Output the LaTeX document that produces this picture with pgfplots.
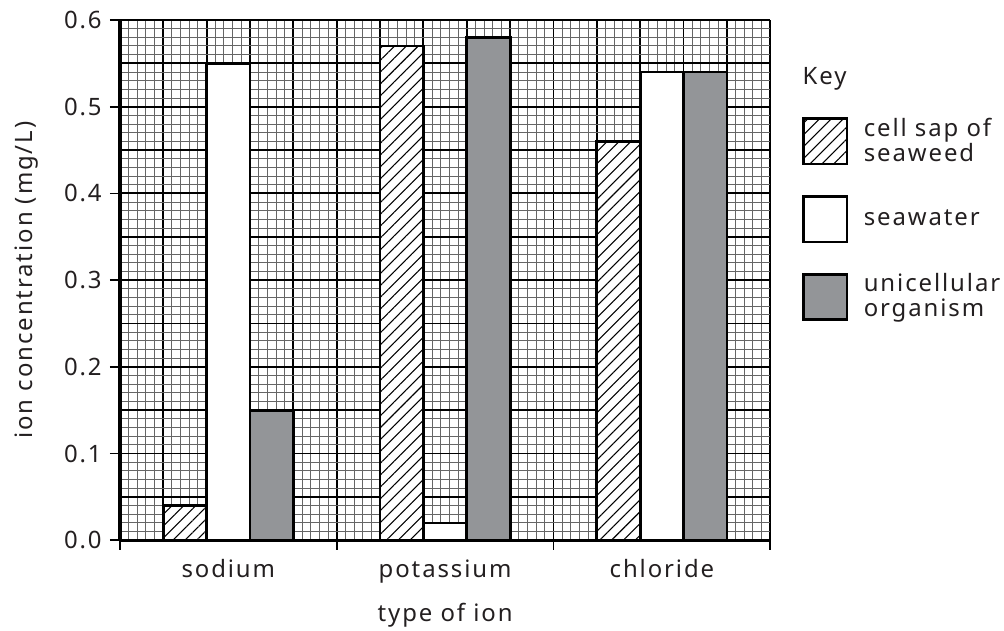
\documentclass[border=0pt]{standalone}
\usepackage{pgfplots}
\pgfplotsset{compat=1.18}
\usetikzlibrary{patterns.meta}
\usepackage{fontspec}
\setmainfont{Noto Sans}[LetterSpace=8]
\definecolor{txt}{HTML}{231F20}
\definecolor{bargrey}{HTML}{939598}
\newcommand{\fs}{\fontsize{15.7}{16.5}\selectfont}
\begin{document}
\fs
\color{txt}
\begin{tikzpicture}
\begin{axis}[
  x=1cm, y=20cm,
  xmin=0, xmax=15, ymin=0, ymax=0.6,
  clip=false,
  axis lines=left,
  axis line style={-, line width=2.2pt, black},
  xtick={0,1,2,3,4,5,6,7,8,9,10,11,12,13,14,15},
  minor x tick num=4,
  ytick={0,0.05,0.1,0.15,0.2,0.25,0.3,0.35,0.4,0.45,0.5,0.55,0.6},
  minor y tick num=4,
  xticklabels={}, yticklabels={},
  grid=both,
  major grid style={line width=1.2pt, black},
  minor grid style={line width=0.6pt, black!60},
  major tick length=0pt, minor tick length=0pt,
  extra y ticks={0,0.1,0.2,0.3,0.4,0.5,0.6},
  extra y tick labels={0.0,0.1,0.2,0.3,0.4,0.5,0.6},
  extra y tick style={grid=none, major tick length=0.23cm, tick align=outside,
     major tick style={line width=1.1pt, black},
     yticklabel style={anchor=east, xshift=0cm}},
  extra x ticks={2.5,7.5,12.5},
  extra x tick labels={sodium,potassium,chloride},
  extra x tick style={grid=none, major tick length=0pt,
     xticklabel style={anchor=base, yshift=-0.85cm}},
  ticklabel style={font=\fs, text=txt},
  xlabel={type of ion},
  ylabel={ion concentration (mg/L)},
  every axis x label/.style={at={(axis description cs:0.5,0)}, anchor=base, yshift=-1.87cm, font=\fs, text=txt},
  every axis y label/.style={at={(axis description cs:-0.134,0.5)}, rotate=90, anchor=base, font=\fs, text=txt},
  legend style={at={(axis cs:15.74,0.4874)}, anchor=north west, draw=none, fill=none,
     inner sep=0pt, outer sep=0pt, row sep=0.70cm, column sep=0.36cm,
     font=\fs, text=txt,
     nodes={align=left, inner sep=0pt}},
  legend cell align=left,
  keybox/.style={legend image code/.code={\draw[##1, line width=1.6pt, bar width=1cm] (0cm,-0.52cm) rectangle (1cm,0.52cm);}},
]
\addplot[ybar, bar width=1cm, bar shift=0pt, draw=black, line width=1.8pt,
  preaction={fill=white}, pattern={Lines[angle=45, distance=5.5pt, line width=0.7pt]}, pattern color=black, keybox]
  coordinates {(1.5,0.04) (6.5,0.57) (11.5,0.46)};
\addlegendentry{cell sap of\\seaweed\rule[-0.16cm]{0pt}{0pt}}
\addplot[ybar, bar width=1cm, bar shift=0pt, draw=black, line width=1.8pt, fill=white, keybox]
  coordinates {(2.5,0.55) (7.5,0.02) (12.5,0.54)};
\addlegendentry{seawater}
\addplot[ybar, bar width=1cm, bar shift=0pt, draw=black, line width=1.8pt, fill=bargrey, keybox]
  coordinates {(3.5,0.15) (8.5,0.58) (13.5,0.54)};
\addlegendentry{unicellular\\organism}
\draw[line width=1.1pt, black] (axis cs:0,0) -- ++(0,-0.22cm);
\draw[line width=1.1pt, black] (axis cs:5,0) -- ++(0,-0.22cm);
\draw[line width=1.1pt, black] (axis cs:10,0) -- ++(0,-0.22cm);
\draw[line width=1.1pt, black] (axis cs:15,0) -- ++(0,-0.22cm);
\node[anchor=base west, inner sep=0pt, font=\fs, text=txt] at (axis cs:15.74,0.5253) {Key};
\coordinate (ll) at (axis cs:0,0);
\coordinate (ur) at (axis cs:15,0.6);
\end{axis}
\pgfresetboundingbox
\path ([shift={(-2.765cm,-2.074cm)}]ll) rectangle ([shift={(5.39cm,0.46cm)}]ur);
\end{tikzpicture}
\end{document}
